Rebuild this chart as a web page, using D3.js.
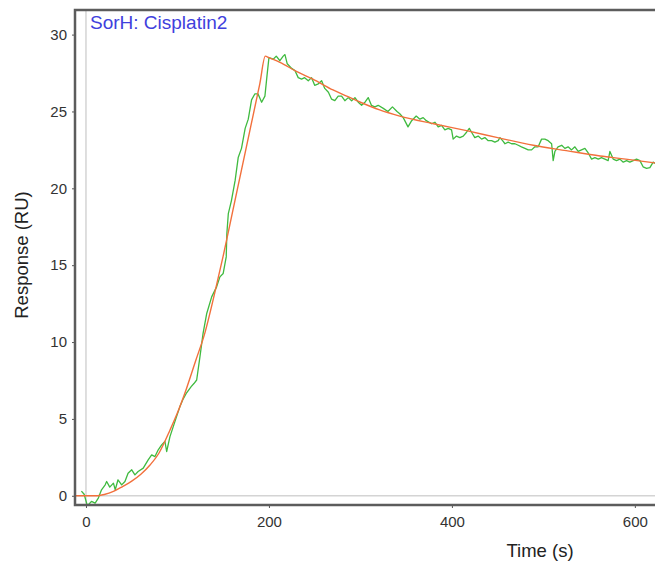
<!DOCTYPE html>
<html>
<head>
<meta charset="utf-8">
<script src="https://cdn.jsdelivr.net/npm/d3@7"></script>
<style>
  html, body { margin: 0; padding: 0; background: #fff; }
  svg { display: block; }
  text { font-family: Arial, "Liberation Sans", sans-serif; }
</style>
</head>
<body>
<script>
// ---- data ----
const chartTitle = "SorH: Cisplatin2";
const xTicks = [0, 200, 400, 600];
const yTicks = [0, 5, 10, 15, 20, 25, 30];

const fitTime = [-12, 0, 10, 15, 20, 30, 40, 50, 60, 70, 80, 92, 100, 110, 120, 130, 140, 150, 160, 170, 180, 190, 196,
  200, 212, 230, 248, 270, 285, 300, 321, 343, 380, 416, 450, 489, 525, 562, 590, 622];
const fitResp = [0, 0, 0, 0.02, 0.08, 0.28, 0.6, 0.95, 1.4, 2.0, 2.8, 4.3, 5.4, 7.0, 8.8, 10.6, 13.0, 15.6, 18.4, 21.2, 24.0, 26.8, 28.6,
  28.5, 28.2, 27.6, 27.1, 26.4, 26.0, 25.6, 25.1, 24.7, 24.2, 23.75, 23.3, 22.8, 22.45, 22.1, 21.9, 21.65];

const dataTime = [-5, -2, 1.5, 6, 10, 13.5, 17, 21, 22.6, 26, 30, 32, 35, 39, 42.6, 46, 50, 53.5, 57, 62.6, 68, 71.8, 75.4, 79, 82.7,
  86.3, 88.2, 91.8, 95.4, 99, 102.7, 105.7, 110, 115, 118, 121, 124.6, 128, 132, 137.4, 142.8, 146.4, 150, 153.3, 154, 155.6,
  159, 163, 166.4, 170, 174, 177.4, 181, 184.7, 188, 192, 195.6, 198, 200, 204.7, 208, 212, 215.6, 217.5, 220, 224.8, 228.4,
  232, 235.7, 239, 243, 246.6, 250, 254, 257.6, 261, 265, 268.5, 272, 275.7, 279.4, 283, 286.7, 290.4, 294, 297.6, 301.3, 305,
  308.5, 312, 315.8, 319.4, 325, 330, 335, 340, 343, 346.8, 352, 356, 361, 365, 368.6, 372, 377.8, 381.4, 385, 388.7, 392.3,
  396, 399.6, 401.4, 405, 408.7, 412.4, 416, 419, 421.5, 425, 428.7, 432.5, 436, 439.7, 443.4, 447, 450.6, 452.5, 455.4, 458,
  461.5, 465.2, 468.9, 472.5, 476, 479.8, 483.4, 487.1, 490.7, 494.3, 498, 501.6, 505.2, 509, 510.7, 512.6, 516, 520, 523.5,
  527, 530.8, 534.4, 538, 541.7, 545.4, 549, 552.7, 556.3, 560, 563.5, 567.2, 570.8, 572.7, 576.3, 580, 583.6, 587.3, 591,
  594.5, 598.2, 601.8, 605.5, 609, 612.8, 616.4, 620, 623];
const dataResp = [0.3, 0.1, -0.65, -0.37, -0.48, -0.15, 0.39, 0.71, 0.93, 0.56, 0.82, 0.39, 1.04, 0.71, 0.93, 1.47, 1.69, 1.36, 1.58, 1.8, 2.34, 2.66, 2.55, 2.99, 3.31,
  3.53, 2.88, 3.85, 4.5, 5.15, 5.8, 6.23, 6.7, 7.1, 7.3, 7.53, 9.05, 10.56, 11.86, 12.94, 13.59, 14.24, 14.46, 15.54, 17.06, 18.36,
  19.2, 20.5, 22.0, 22.6, 23.9, 24.5, 25.75, 26.15, 26.15, 25.6, 26.0, 27.4, 28.5, 28.4, 28.6, 28.3, 28.6, 28.7, 28.1, 27.8, 27.66,
  27.2, 27.1, 27.2, 27.0, 27.2, 26.7, 26.8, 27.0, 26.5, 26.25, 25.8, 25.7, 26.0, 26.0, 25.7, 25.9, 25.7, 25.9, 25.6, 25.4, 25.6,
  25.9, 25.4, 25.3, 25.4, 25.2, 25.0, 25.3, 25.0, 24.85, 24.6, 24.0, 24.4, 24.7, 24.5, 24.6, 24.4, 24.2, 24.3, 24.0, 24.1, 23.8,
  23.9, 23.8, 23.2, 23.4, 23.3, 23.4, 23.65, 23.9, 23.65, 23.3, 23.4, 23.2, 23.3, 23.1, 23.1, 23.0, 23.1, 23.3, 23.1, 22.9,
  23.0, 22.9, 22.9, 22.8, 22.7, 22.6, 22.5, 22.5, 22.7, 22.7, 23.2, 23.2, 23.1, 22.9, 21.8, 22.4, 22.7, 22.8, 22.6,
  22.7, 22.5, 22.7, 22.4, 22.5, 22.6, 22.3, 21.9, 22.0, 21.9, 22.0, 21.9, 21.8, 22.4, 21.9, 21.8, 21.9, 21.7, 21.8,
  21.7, 21.8, 21.9, 21.8, 21.4, 21.3, 21.35, 21.7, 21.6];

// ---- layout ----
const W = 662, H = 566;
const mLeft = 75, mRight = 655, mTop = 10, mBottom = 505;

const svg = d3.select("body").append("svg").attr("width", W).attr("height", H);

const x = d3.scaleLinear().domain([-12, 622]).range([mLeft, mRight]);
const y = d3.scaleLinear().domain([-0.6, 31.6]).range([mBottom, mTop]);

// zero reference lines
svg.append("line").attr("x1", x(0)).attr("x2", x(0)).attr("y1", mTop).attr("y2", mBottom)
  .attr("stroke", "#d4d4d4").attr("stroke-width", 1.5);
svg.append("line").attr("x1", mLeft).attr("x2", mRight).attr("y1", y(0)).attr("y2", y(0))
  .attr("stroke", "#d4d4d4").attr("stroke-width", 1.5);

// clip
svg.append("clipPath").attr("id", "plot").append("rect")
  .attr("x", mLeft).attr("y", mTop).attr("width", mRight - mLeft).attr("height", mBottom - mTop);

const line = d3.line().x(d => x(d[0])).y(d => y(d[1]));

const g = svg.append("g").attr("clip-path", "url(#plot)");
g.append("path").datum(dataTime.map((t, i) => [t, dataResp[i]]))
  .attr("d", line).attr("fill", "none").attr("stroke", "#3fba3f").attr("stroke-width", 1.3)
  .attr("stroke-linejoin", "round");
g.append("path").datum(fitTime.map((t, i) => [t, fitResp[i]]))
  .attr("d", d3.line().curve(d3.curveMonotoneX).x(d => x(d[0])).y(d => y(d[1])))
  .attr("fill", "none").attr("stroke", "#f2703c").attr("stroke-width", 1.4);

// axes
const xAxis = d3.axisBottom(x).tickValues(xTicks).tickSize(3).tickSizeOuter(0);
const gx = svg.append("g").attr("transform", `translate(0,${mBottom})`).call(xAxis);
gx.select(".domain").remove();
gx.selectAll(".tick line").attr("stroke", "#555");
gx.selectAll(".tick text").attr("font-size", 15).attr("fill", "#333").attr("dy", "1.05em")
  .attr("font-family", "Arial, 'Liberation Sans', sans-serif");

const yAxis = d3.axisLeft(y).tickValues(yTicks).tickSize(3).tickSizeOuter(0);
const gy = svg.append("g").attr("transform", `translate(${mLeft},0)`).call(yAxis);
gy.select(".domain").remove();
gy.selectAll(".tick line").attr("stroke", "#555");
gy.selectAll(".tick text").attr("font-size", 15).attr("fill", "#333").attr("x", -8)
  .attr("font-family", "Arial, 'Liberation Sans', sans-serif");

// frame (left, top, bottom)
svg.append("path")
  .attr("d", `M${mRight},${mTop} L${mLeft},${mTop} L${mLeft},${mBottom} L${mRight},${mBottom}`)
  .attr("fill", "none").attr("stroke", "#5c5c5c").attr("stroke-width", 2.5);

// titles
svg.append("text").attr("x", 90).attr("y", 29).attr("font-size", 19).attr("fill", "#4040dd")
  .text(chartTitle);
svg.append("text").attr("x", 540).attr("y", 557).attr("text-anchor", "middle")
  .attr("font-size", 18.5).attr("fill", "#222").text("Time (s)");
svg.append("text").attr("transform", "translate(28,255) rotate(-90)").attr("text-anchor", "middle")
  .attr("font-size", 18.5).attr("fill", "#222").text("Response (RU)");
</script>
</body>
</html>
